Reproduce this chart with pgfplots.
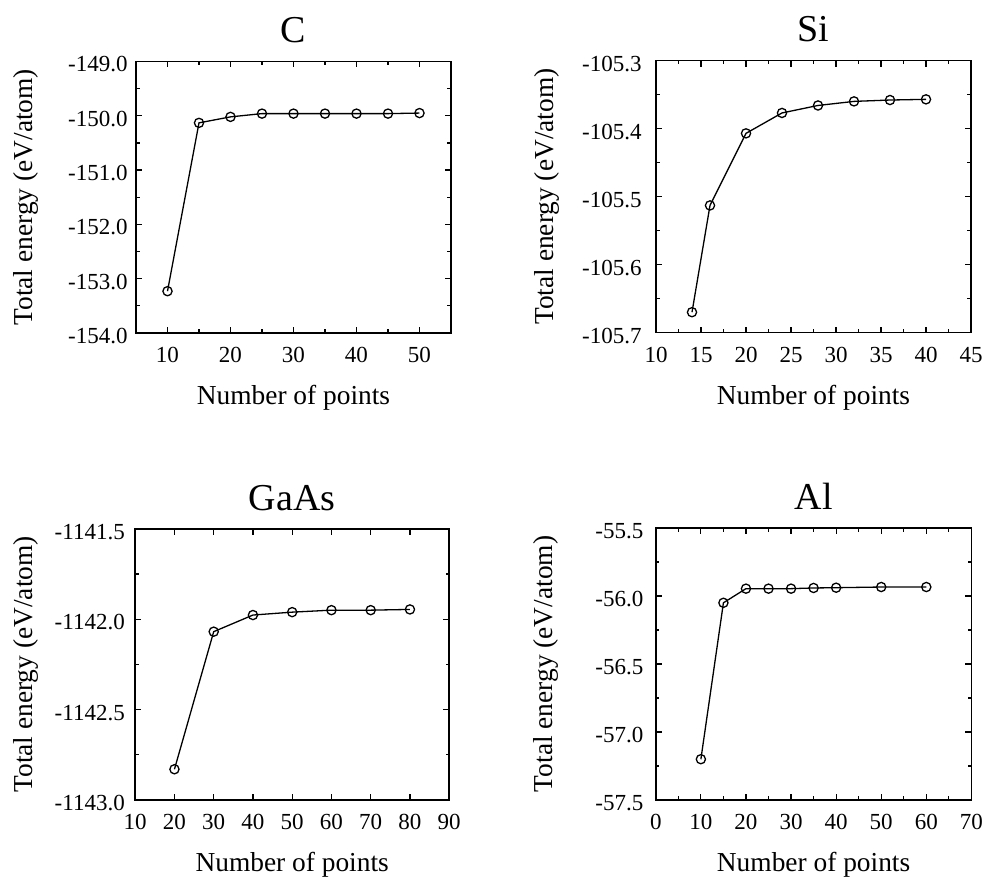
\documentclass[border=0pt]{standalone}
\usepackage{fontspec}
\setmainfont{Liberation Serif}
\usepackage{pgfplots}
\pgfplotsset{compat=1.18}
\pgfplotsset{
  ser/.style={black, line width=0.65pt, mark=o, mark size=2.3pt,
      mark options={line width=0.65pt, fill=none, solid}},
  panel/.style={
    scale only axis,
    anchor=south west,
    axis line style={line width=0.8pt},
    every tick/.style={black, line width=0.6pt},
    major tick length=3pt,
    minor tick length=1.8pt,
    tick align=inside,
    xtick pos=both, ytick pos=both,
    font=\fontsize{11.5}{13}\selectfont,
    /pgf/number format/assume math mode=true,
    /pgf/number format/1000 sep={},
    xticklabel style={inner sep=0pt, anchor=north, yshift=-7pt},
    yticklabel style={inner sep=0pt, anchor=east, yshift=-1.5pt,
      /pgf/number format/fixed, /pgf/number format/fixed zerofill,
      /pgf/number format/precision=1},
    title style={at={(axis description cs:0.5,1)}, anchor=base, yshift=3.3pt,
      font=\fontsize{19}{22}\selectfont},
    xlabel={Number of points},
    ylabel={Total energy (eV/atom)},
    xlabel style={at={(axis description cs:0.5,0)}, anchor=base, yshift=-36pt,
      font=\fontsize{13.7}{16}\selectfont},
    ylabel style={at={(axis description cs:-0.327,0.5)}, anchor=base,
      font=\fontsize{13.7}{16}\selectfont},
  }
}
\begin{document}
\begin{tikzpicture}
\useasboundingbox (0,0) rectangle (492.5pt,441.5pt);
% C
\begin{axis}[panel, at={(68pt,275pt)}, width=157.5pt, height=135.75pt,
  title={C}, xmin=5, xmax=55, ymin=-154, ymax=-149,
  xtick={10,20,30,40,50}, minor x tick num=1,
  ytick={-154,-153,-152,-151,-150,-149}, minor y tick num=1,
  yticklabel style={xshift=-4pt}]
\addplot[ser] coordinates {(10,-153.23) (15,-150.13) (20,-150.02) (25,-149.96) (30,-149.96)
  (35,-149.96) (40,-149.96) (45,-149.96) (50,-149.95)};
\end{axis}
% Si
\begin{axis}[panel, at={(328pt,275.2pt)}, width=157.5pt, height=136pt,
  title={Si}, xmin=10, xmax=45, ymin=-105.7, ymax=-105.3,
  xtick={10,15,20,25,30,35,40,45}, minor x tick num=1,
  ytick={-105.7,-105.6,-105.5,-105.4,-105.3}, minor y tick num=1,
  yticklabel style={xshift=-7pt}]
\addplot[ser] coordinates {(14,-105.670) (16,-105.513) (20,-105.407) (24,-105.377)
  (28,-105.366) (32,-105.360) (36,-105.358) (40,-105.357)};
\end{axis}
% GaAs
\begin{axis}[panel, at={(67.6pt,41.5pt)}, width=157pt, height=135.6pt,
  title={GaAs}, xmin=10, xmax=90, ymin=-1143, ymax=-1141.5,
  xtick={10,20,30,40,50,60,70,80,90},
  ytick={-1143,-1142.5,-1142,-1141.5}, minor y tick num=1,
  yticklabel style={xshift=-5pt}]
\addplot[ser] coordinates {(20,-1142.83) (30,-1142.069) (40,-1141.977) (50,-1141.961)
  (60,-1141.950) (70,-1141.950) (80,-1141.946)};
\end{axis}
% Al
\begin{axis}[panel, at={(327.9pt,41.5pt)}, width=157.8pt, height=136pt,
  title={Al}, xmin=0, xmax=70, ymin=-57.5, ymax=-55.5,
  xtick={0,10,20,30,40,50,60,70}, minor x tick num=1,
  ytick={-57.5,-57,-56.5,-56,-55.5}, minor y tick num=1,
  yticklabel style={xshift=-6pt}]
\addplot[ser] coordinates {(10,-57.20) (15,-56.05) (20,-55.946) (25,-55.946) (30,-55.946)
  (35,-55.941) (40,-55.939) (50,-55.934) (60,-55.934)};
\end{axis}
\end{tikzpicture}
\end{document}
